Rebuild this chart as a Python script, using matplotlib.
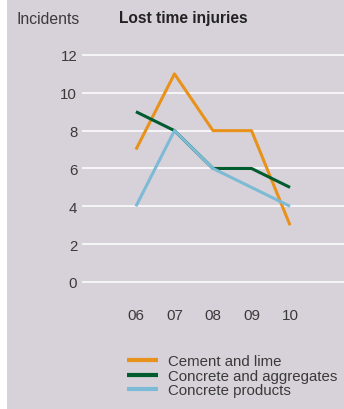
import matplotlib
matplotlib.use("Agg")
import matplotlib.pyplot as plt
from matplotlib.patches import Rectangle
from matplotlib.lines import Line2D

plt.rcParams['font.family'] = ['Liberation Sans', 'DejaVu Sans']

years = ["06", "07", "08", "09", "10"]
cement_lime = [7, 11, 8, 8, 3]
concrete_aggregates = [9, 8, 6, 6, 5]
concrete_products = [4, 8, 6, 5, 4]
y_ticks = [0, 2, 4, 6, 8, 10, 12]

series = [
    ("Cement and lime", cement_lime, "#e8921b"),
    ("Concrete and aggregates", concrete_aggregates, "#005c2e"),
    ("Concrete products", concrete_products, "#7dbad5"),
]

W, H = 344, 410
fig = plt.figure(figsize=(W / 100, H / 100), dpi=100, facecolor="white")
bg = "#d7d2da"
txt = "#3a3a3a"
fig.patches.append(Rectangle((7 / W, 0), 1 - 7 / W, 1, transform=fig.transFigure,
                             facecolor=bg, edgecolor="none", zorder=-10))

# axes geometry in pixels
px_unit = 18.92
y0_px, ylo, yhi = 283, -0.5, 12.5
bottom_px = y0_px - ylo * px_unit
top_px = y0_px - yhi * px_unit
left_px, right_px = 82, 344
ax = fig.add_axes([left_px / W, 1 - bottom_px / H, (right_px - left_px) / W,
                   (bottom_px - top_px) / H])
ax.set_facecolor("none")
x = list(range(len(years)))
ax.set_xlim(-1.4, 5.4)
ax.set_ylim(ylo, yhi)

for yt in y_ticks:
    ax.axhline(yt, color="white", lw=1.1, zorder=1)

for name, vals, col in series:
    ax.plot(x, vals, color=col, lw=2.2, label=name, zorder=3, solid_capstyle="butt")

for s in ax.spines.values():
    s.set_visible(False)
ax.set_yticks(y_ticks)
ax.set_yticklabels([str(v) for v in y_ticks])
ax.set_xticks(x)
ax.set_xticklabels(years)
ax.tick_params(axis="both", length=0, labelcolor=txt)
ax.tick_params(axis="y", pad=3.5, labelsize=10.8)
ax.tick_params(axis="x", pad=12, labelsize=11)

fig.text(16 / W, 1 - 19 / H, "Incidents", fontsize=11.3, color=txt, va="center", ha="left")
fig.text(119 / W, 1 - 19 / H, "Lost time injuries", fontsize=11.2, color="#222222",
         fontweight="bold", va="center", ha="left")

# legend drawn as swatch lines plus labels
rows_px = [361, 375.5, 389.5]
for (name, _, col), ry in zip(series, rows_px):
    yf = 1 - ry / H
    fig.add_artist(Line2D([127 / W, 157.5 / W], [yf, yf], transform=fig.transFigure,
                          color=col, lw=3.0, solid_capstyle="butt"))
    fig.text(167.5 / W, yf, name, fontsize=10.8, color=txt, va="center_baseline", ha="left")

fig.savefig("out.png", dpi=100, facecolor=fig.get_facecolor())
